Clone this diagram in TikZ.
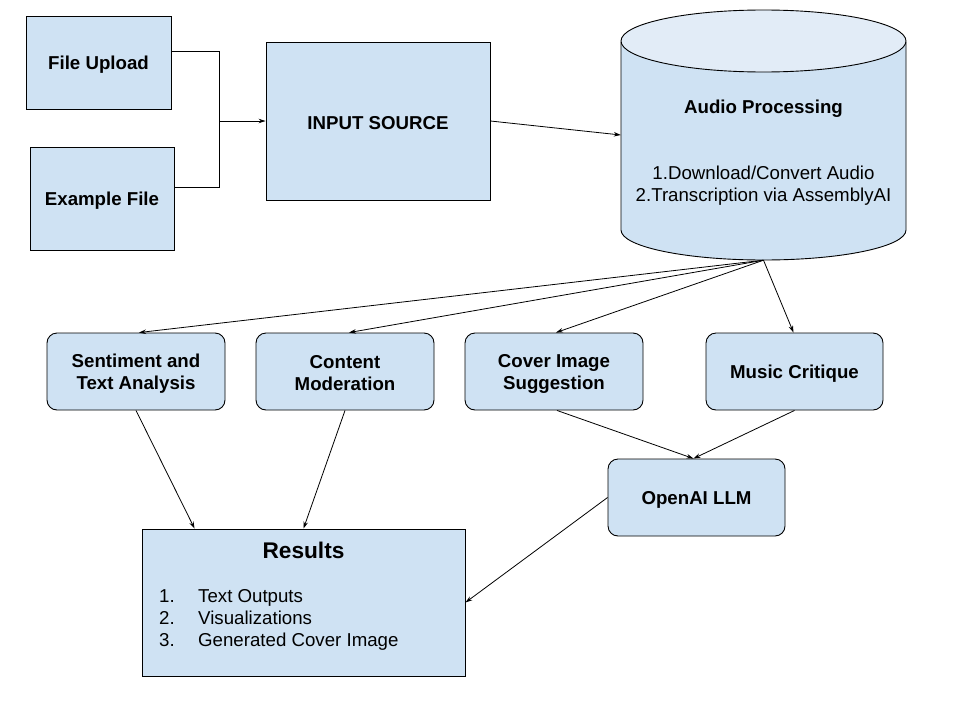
\documentclass[tikz,border=0pt]{standalone}
\usepackage{fontspec}
\setmainfont{Liberation Sans}
\usetikzlibrary{arrows.meta}
\definecolor{boxblue}{HTML}{CFE2F3}
\definecolor{topblue}{HTML}{E2ECF7}
\tikzset{
  box/.style={draw=black, fill=boxblue, line width=0.9pt, inner sep=0pt},
  rbox/.style={box, rounded corners=10pt},
  txt/.style={label={[align=center, inner sep=0pt, yshift=-2pt,
              font=\fontsize{18.67}{22}\selectfont\bfseries]center:#1}},
  listtext/.style={font=\fontsize{18.67}{22}\selectfont, anchor=base west, inner sep=0pt},
  conn/.style={line width=0.8pt, draw=black},
  arr/.style={conn, -{Stealth[length=7pt, width=4.5pt]}},
}
\begin{document}
\begin{tikzpicture}[x=1pt, y=-1pt]
\useasboundingbox (0,0) rectangle (960,720);
\fill[white] (0,0) rectangle (960,720);

% top row boxes
\node[box, minimum width=145pt, minimum height=93pt, txt={File Upload}] (fu) at (98.5,62.5) {};
\node[box, minimum width=144pt, minimum height=103pt, txt={Example File}] (ef) at (102,198.5) {};
\node[box, minimum width=224pt, minimum height=158pt, txt={INPUT SOURCE}] (in) at (378,121) {};

% cylinder (Audio Processing)
\node[minimum width=285pt, minimum height=250pt, inner sep=0pt] (ap) at (763.5,135) {};
\fill[boxblue] (621,42) -- (621,230) arc[start angle=180, end angle=360, x radius=142.5, y radius=-30] -- (906,42) -- cycle;
\draw[line width=0.9pt] (621,42) -- (621,230) arc[start angle=180, end angle=360, x radius=142.5, y radius=-30] -- (906,42);
\draw[line width=0.9pt, fill=topblue] (763.5,41) ellipse[x radius=142.5, y radius=31];
\node[font=\fontsize{18.67}{22}\selectfont\bfseries] (aptitle) at (763.5,109) {Audio Processing};
\node[font=\fontsize{18.67}{22}\selectfont, align=center] (aplist) at (763.5,186) {1.Download/Convert Audio\\2.Transcription via AssemblyAI};

% middle row
\node[rbox, minimum width=178pt, minimum height=77pt, txt={Sentiment and\\Text Analysis}] (sa) at (136,371.5) {};
\node[rbox, minimum width=178pt, minimum height=77pt, txt={Content\\Moderation}] (cm) at (345,371.5) {};
\node[rbox, minimum width=178pt, minimum height=77pt, txt={Cover Image\\Suggestion}] (ci) at (554,371.5) {};
\node[rbox, minimum width=177pt, minimum height=77pt, txt={Music Critique}] (mc) at (794.5,371.5) {};
\node[rbox, minimum width=177pt, minimum height=77pt, txt={OpenAI LLM}] (ll) at (696.5,497.5) {};

% results
\node[box, minimum width=323pt, minimum height=147pt] (res) at (303.5,602.5) {};
\node[font=\fontsize{22.67}{26}\selectfont\bfseries] (restitle) at (303.5,550) {Results};
\node[listtext] (r1n) at (159,602) {1.};
\node[listtext] (r2n) at (159,624) {2.};
\node[listtext] (r3n) at (159,646) {3.};
\node[listtext] (r1) at (198,602) {Text Outputs};
\node[listtext] (r2) at (198,624) {Visualizations};
\node[listtext] (r3) at (198,646) {Generated Cover Image};

% connectors
\coordinate (j) at (219,121);
\draw[conn] ([yshift=11.5pt]fu.east) -| (j);
\draw[conn] ([yshift=11.5pt]ef.east) -| (j);
\draw[arr] (j) -- (in.west);
\draw[arr] (in.east) -- (ap.west);

\draw[arr] (ap.south) -- ([xshift=3pt]sa.north);
\draw[arr] (ap.south) -- ([xshift=4pt]cm.north);
\draw[arr] (ap.south) -- ([xshift=2pt]ci.north);
\draw[arr] (ap.south) -- ([xshift=-1pt]mc.north);

\draw[arr] (sa.south) -- ([xshift=53pt]res.north west);
\draw[arr] (cm.south) -- (res.north);
\draw[arr] ([xshift=3pt]ci.south) -- ([xshift=-3pt]ll.north);
\draw[arr] (mc.south) -- ([xshift=-3pt]ll.north);
\draw[arr] (ll.west) -- (res.east);
\end{tikzpicture}
\end{document}
